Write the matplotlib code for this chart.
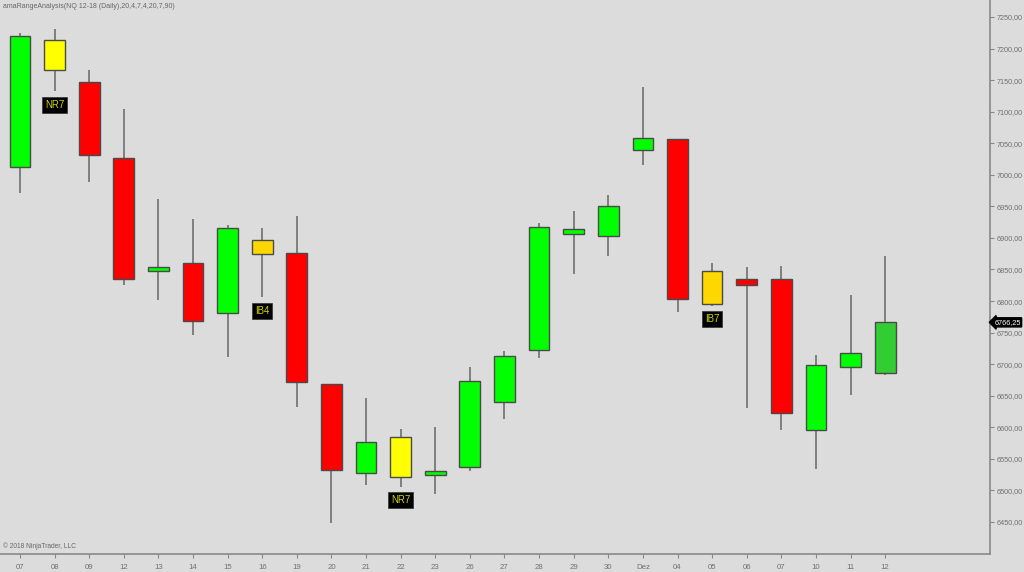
import matplotlib
matplotlib.use("Agg")
import matplotlib.pyplot as plt
import numpy as np

plt.rcParams["font.family"] = ["Liberation Sans", "DejaVu Sans"]

dates = ["07", "08", "09", "12", "13", "14", "15", "16", "19", "20", "21", "22", "23",
         "26", "27", "28", "29", "30", "Dez", "04", "05", "06", "07", "10", "11", "12"]
opens = [7012, 7214, 7147, 7026, 6847, 6861, 6781, 6896, 6876, 6668, 6527, 6584, 6524,
         6537, 6640, 6722, 6907, 6903, 7040, 7056, 6848, 6835, 6835, 6596, 6695, 6686.5]
highs = [7225, 7231, 7166, 7104, 6962, 6930, 6920, 6915, 6934, 6669, 6646, 6597, 6601,
         6695, 6721, 6923, 6943, 6968, 7139, 7056, 6861, 6854, 6856, 6714, 6809, 6872]
lows = [6971, 7133, 6989, 6825, 6801, 6746, 6712, 6806, 6632, 6448, 6508, 6506, 6494,
        6530, 6613, 6709, 6843, 6871, 7015, 6783, 6792, 6630, 6595, 6534, 6651, 6683]
closes = [7220, 7166, 7031, 6835, 6854, 6768, 6915, 6875, 6672, 6532, 6576, 6521, 6530,
          6673, 6713, 6918, 6914, 6950, 7058, 6803, 6796, 6825, 6623, 6699, 6717, 6766.25]
signals = ["", "NR7", "", "", "", "", "", "IB4", "", "", "", "NR7", "",
           "", "", "", "", "", "", "", "IB7", "", "", "", "", ""]
label_prices = [None, 7111, None, None, None, None, None, 6784, None, None, None, 6485, None,
                None, None, None, None, None, None, None, 6772, None, None, None, None, None]
title = "amaRangeAnalysis(NQ 12-18 (Daily),20,4,7,4,20,7,90)"
y_ticks = list(range(6450, 7251, 50))

BG = "#dcdcdc"
fig = plt.figure(figsize=(10.24, 5.72), dpi=100, facecolor=BG)
ax = fig.add_axes([0, 1 - 554 / 572, 990 / 1024, 554 / 572])
ax.set_facecolor(BG)

x = np.arange(len(dates))
colors = []
for i, (o, c, s) in enumerate(zip(opens, closes, signals)):
    if s.startswith("NR"):
        colors.append("#ffff00")
    elif s.startswith("IB"):
        colors.append("#ffd700")
    elif i == len(dates) - 1:
        colors.append("#32cd32")
    elif c >= o:
        colors.append("#00ff00")
    else:
        colors.append("#ff0000")

ax.vlines(x, lows, highs, color="#666666", lw=1.1, zorder=1)
bottoms = np.minimum(opens, closes)
heights = np.abs(np.array(closes) - np.array(opens))
ax.bar(x, heights, bottom=bottoms, width=0.6, color=colors,
       edgecolor="#4a4a4a", linewidth=1.0, zorder=2)

for i, (s, lp) in enumerate(zip(signals, label_prices)):
    if s:
        ax.text(x[i], lp, s, ha="center", va="center", fontsize=7, color="#d4d400",
                bbox=dict(boxstyle="square,pad=0.3", fc="black", ec="#333333", lw=0.5),
                zorder=5)

ax.set_xlim(-0.578, 28.03)
ax.set_ylim(6399.3, 7276.9)

ax.yaxis.tick_right()
ax.set_yticks(y_ticks)
ax.set_yticklabels([f"{v:.2f}".replace(".", ",") for v in y_ticks])
ax.set_xticks(x)
ax.set_xticklabels(dates)
ax.tick_params(axis="y", which="both", right=True, length=3, width=0.8, color="#888888",
               labelsize=5.2, labelcolor="#707070", pad=2)
ax.tick_params(axis="x", which="both", length=3, width=0.8, color="#888888",
               labelsize=5.6, labelcolor="#707070", pad=4)
for side in ["left", "top"]:
    ax.spines[side].set_visible(False)
for side in ["right", "bottom"]:
    ax.spines[side].set_color("#888888")
    ax.spines[side].set_linewidth(1.2)

# last price marker
last = closes[-1]
ax.annotate(f"{last:.2f}".replace(".", ","), xy=(1.0, last), xycoords=("axes fraction", "data"),
            xytext=(3, 0), textcoords="offset points", ha="left", va="center",
            fontsize=5.2, color="white", annotation_clip=False,
            bbox=dict(boxstyle="larrow,pad=0.15", fc="black", ec="black"), zorder=6)

fig.text(3 / 1024, 1 - 6 / 572, title, fontsize=5, color="#666666", ha="left", va="center")
fig.text(3 / 1024, 1 - 546 / 572, "© 2018 NinjaTrader, LLC", fontsize=4.8, color="#666666",
         ha="left", va="center")

fig.savefig("out.png", dpi=100, facecolor=BG)
